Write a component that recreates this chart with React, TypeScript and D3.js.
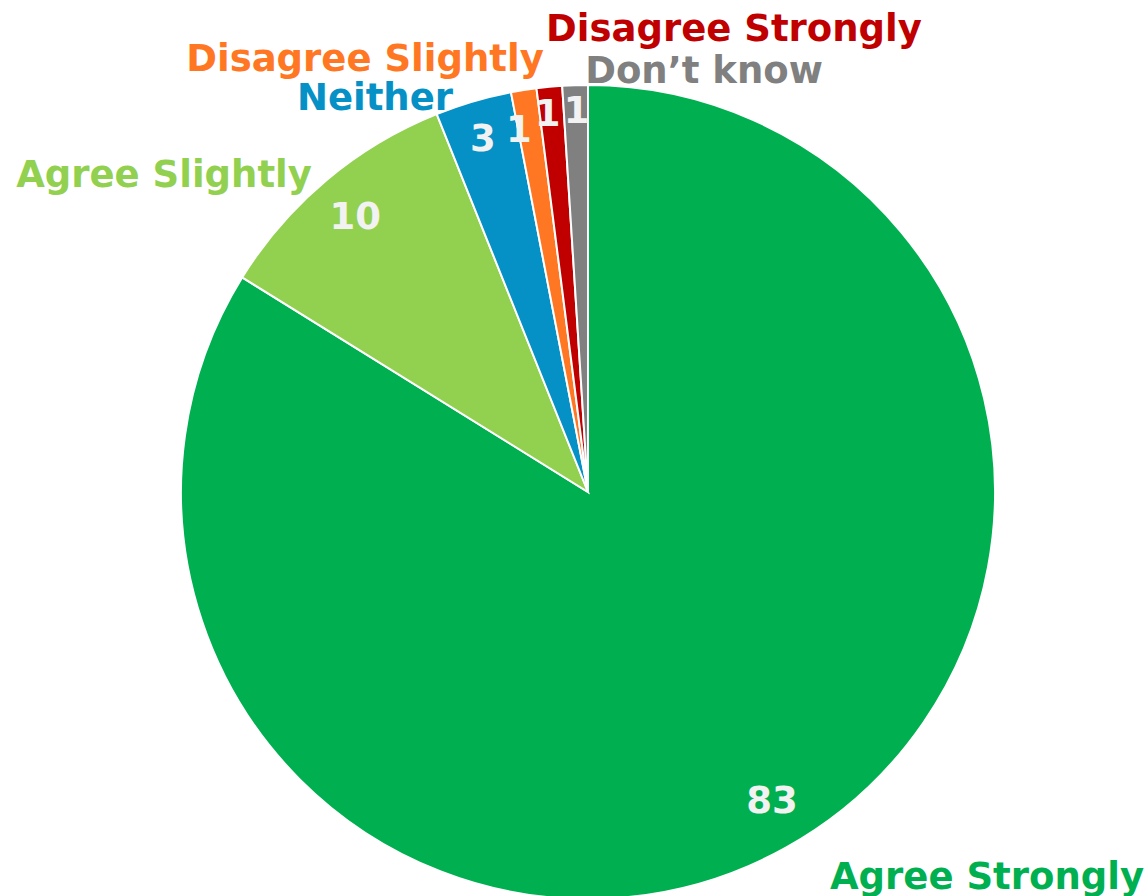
import * as d3 from 'd3';

const categories = ['Agree Strongly', 'Agree Slightly', 'Neither', 'Disagree Slightly', 'Disagree Strongly', 'Don\u2019t know'];
const values = [83, 10, 3, 1, 1, 1];
const colors = ['#00B050', '#92D050', '#0590C6', '#FF7722', '#C00000', '#808080'];

// category label placement relative to pie centre
const labelOffsets: [number, number][] = [
  [399, 384],
  [-424, -318],
  [-213, -395],
  [-223, -434],
  [146, -464],
  [116, -422],
];
// small nudges for the value labels so the thin slices don't collide
const valueNudge: [number, number][] = [
  [8, -8],
  [0, 2],
  [-3, -6],
  [-12, -5],
  [-6, -18],
  [0, -19],
];

const width = 1145;
const height = 896;
const cx = 588;
const cy = 492;
const radius = 407;

export default function App(): JSX.Element {
  const pie = d3.pie<number>().sort(null).value(d => d);
  const arcs = pie(values);

  const arc = d3.arc<d3.PieArcDatum<number>>()
    .innerRadius(0)
    .outerRadius(radius);

  const labelArc = d3.arc<d3.PieArcDatum<number>>()
    .innerRadius(radius * 0.89)
    .outerRadius(radius * 0.89);

  const font = '"DejaVu Sans", Verdana, sans-serif';

  return (
    <svg
      width={width}
      height={height}
      style={{ position: 'absolute', left: 0, top: 0, background: '#fff' }}
    >
      <g transform={`translate(${cx},${cy})`}>
        {arcs.map((a, i) => (
          <path
            key={categories[i]}
            d={arc(a) || ''}
            fill={colors[i]}
            stroke="#ffffff"
            strokeWidth={2}
          />
        ))}
        {arcs.map((a, i) => {
          const [x, y] = labelArc.centroid(a);
          return (
            <text
              key={'v' + i}
              x={x + valueNudge[i][0]}
              y={y + valueNudge[i][1]}
              textAnchor="middle"
              dominantBaseline="central"
              fill="#F2F2F2"
              style={{ fontFamily: font, fontWeight: 'bold', fontSize: '37px' }}
            >
              {values[i]}
            </text>
          );
        })}
        {categories.map((c, i) => (
          <text
            key={'l' + i}
            x={labelOffsets[i][0]}
            y={labelOffsets[i][1]}
            textAnchor="middle"
            dominantBaseline="central"
            fill={colors[i]}
            style={{ fontFamily: font, fontWeight: 'bold', fontSize: '37px' }}
          >
            {c}
          </text>
        ))}
      </g>
    </svg>
  );
}
